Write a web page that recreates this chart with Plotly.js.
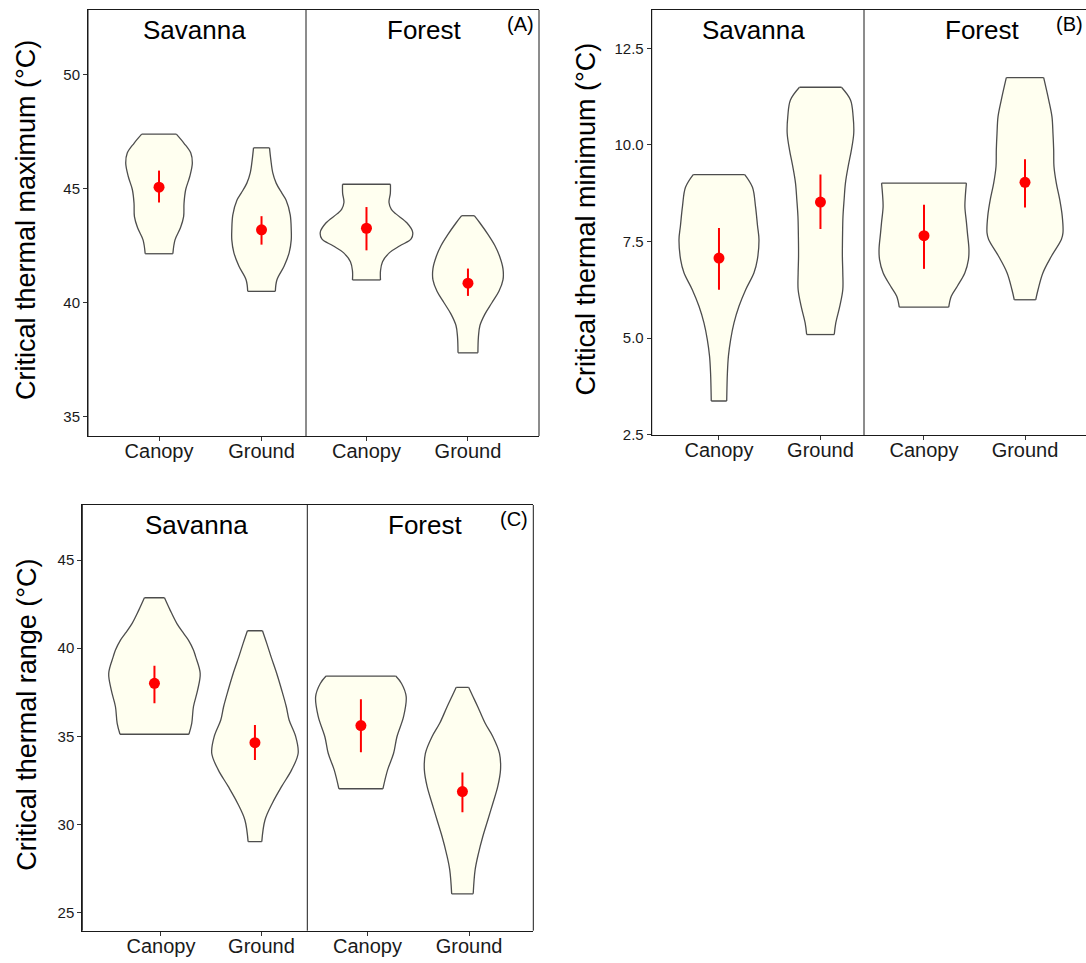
<!DOCTYPE html>
<html><head><meta charset="utf-8">
<script src="https://cdn.plot.ly/plotly-3.0.1.min.js"></script>
<style>html,body{margin:0;padding:0;background:#fff;overflow:hidden}</style>
</head><body><div id="chart" style="width:1086px;height:963px"></div>
<script>
// ---------- DATA ----------
const categories = ['Canopy', 'Ground'];
const habitats = ['Savanna', 'Forest'];

// Means and error-bar limits, order: Savanna-Canopy, Savanna-Ground, Forest-Canopy, Forest-Ground
const ctmaxMean = [45.07, 43.20, 43.27, 40.86];
const ctmaxHi   = [45.80, 43.80, 44.20, 41.50];
const ctmaxLo   = [44.40, 42.55, 42.30, 40.30];

const ctminMean = [7.07, 8.52, 7.65, 9.03];
const ctminHi   = [7.85, 9.23, 8.45, 9.63];
const ctminLo   = [6.25, 7.82, 6.79, 8.38];

const ctrMean = [38.01, 34.64, 35.61, 31.87];
const ctrHi   = [39.01, 35.65, 37.10, 32.95];
const ctrLo   = [36.88, 33.66, 34.10, 30.70];

// Violin density profiles (y level, half-width in category units), top to bottom
const ctmaxSavCanY = [47.4, 47.0, 46.57, 46.13, 45.54, 44.96, 44.37, 43.78, 43.3, 42.76, 42.15];
const ctmaxSavCanW = [.169, .244, .31, .325, .30, .26, .244, .24, .21, .156, .135];
const ctmaxSavGrdY = [46.8, 46.27, 45.7, 45.25, 44.8, 44.5, 43.86, 43.2, 42.76, 42.2, 41.6, 41.0, 40.5];
const ctmaxSavGrdW = [.078, .091, .11, .143, .20, .24, .28, .29, .29, .27, .22, .15, .135];
const ctmaxForCanY = [45.2, 44.8, 44.4, 44.1, 43.9, 43.5, 43.1, 42.8, 42.5, 42.2, 41.8, 41.4, 41.0];
const ctmaxForCanW = [.236, .235, .222, .245, .29, .40, .455, .44, .33, .227, .158, .138, .138];
const ctmaxForGrdY = [43.82, 43.5, 43.0, 42.5, 42.0, 41.5, 41.0, 40.5, 40.0, 39.5, 39.0, 38.5, 37.8];
const ctmaxForGrdW = [.062, .118, .197, .266, .315, .345, .345, .305, .236, .167, .118, .103, .098];

const ctminSavCanY = [9.23, 8.9, 8.4, 7.9, 7.55, 7.03, 6.69, 6.25, 5.82, 5.39, 4.96, 4.53, 4.1, 3.37];
const ctminSavCanW = [.254, .33, .36, .38, .394, .378, .345, .263, .197, .148, .115, .093, .083, .076];
const ctminSavGrdY = [11.49, 11.16, 10.73, 10.3, 9.87, 9.44, 9.01, 8.58, 8.15, 7.72, 7.11, 6.69, 6.25, 5.82, 5.39, 5.09];
const ctminSavGrdW = [.207, .296, .322, .328, .305, .273, .246, .233, .222, .218, .216, .22, .22, .19, .151, .136];
const ctminForCanY = [9.01, 8.7, 8.4, 8.0, 7.72, 7.3, 7.03, 6.69, 6.34, 6.08, 5.8];
const ctminForCanW = [.42, .41, .405, .42, .43, .445, .44, .405, .33, .27, .245];
const ctminForGrdY = [11.74, 11.16, 10.73, 10.3, 9.87, 9.44, 9.01, 8.58, 8.15, 7.72, 7.55, 7.11, 6.69, 6.25, 5.99];
const ctminForGrdW = [.185, .235, .267, .277, .284, .287, .31, .344, .369, .376, .36, .26, .178, .129, .106];

const ctrSavCanY = [42.86, 42.16, 41.41, 40.85, 40.46, 39.9, 39.52, 38.58, 37.63, 36.68, 35.74, 35.12];
const ctrSavCanW = [.10, .156, .222, .289, .338, .388, .41, .455, .43, .388, .371, .343];
const ctrSavGrdY = [40.99, 40.3, 39.52, 38.58, 37.63, 36.68, 35.93, 35.0, 34.04, 33.1, 32.16, 31.21, 30.26, 29.03];
const ctrSavGrdW = [.075, .116, .16, .216, .266, .312, .34, .405, .43, .365, .266, .173, .10, .068];
const ctrForCanY = [38.42, 38.0, 37.25, 36.12, 34.98, 34.04, 33.1, 32.03];
const ctrForCanW = [.343, .40, .446, .42, .355, .322, .263, .217];
const ctrForGrdY = [37.78, 37.3, 36.68, 35.74, 34.98, 34.04, 33.1, 32.16, 31.21, 30.26, 29.31, 28.37, 27.43, 26.07];
const ctrForGrdW = [.061, .10, .151, .224, .30, .365, .375, .348, .30, .25, .20, .158, .125, .106];

// ---------- LAYOUT CONSTANTS ----------
const W = 1086, H = 963;
const fx = v => v / W, fy = v => 1 - v / H;
const FILL = '#FFFFF0', EDGE = '#4d4d4d', RED = '#FF0000', AX = '#1a1a1a';
const FONT = 'Liberation Sans, Arial, sans-serif';

const panels = [
  { label: '(A)', labelX: 536, title: 'Critical thermal maximum (°C)', titleX: 26, top: 10, bottom: 436,
    yRange: [34.15, 52.85], dtick: 5, fmt: 'd', shift: 0,
    facets: [{ l: 88, r: 306, range: [0.307, 2.434], tx: 194 }, { l: 306, r: 539, range: [0.404, 2.70], tx: 424 }],
    mean: ctmaxMean, hi: ctmaxHi, lo: ctmaxLo,
    prof: [[ctmaxSavCanY, ctmaxSavCanW], [ctmaxSavGrdY, ctmaxSavGrdW], [ctmaxForCanY, ctmaxForCanW], [ctmaxForGrdY, ctmaxForGrdW]], rightLine: true },
  { label: '(B)', labelX: 1085, title: 'Critical thermal minimum (°C)', titleX: 585, top: 10, bottom: 435,
    yRange: [2.49, 13.49], dtick: 2.5, fmt: '.1f', shift: 0,
    facets: [{ l: 651.7, r: 864, range: [0.337, 2.429], tx: 753 }, { l: 864, r: 1086, range: [0.406, 2.604], tx: 982 }],
    mean: ctminMean, hi: ctminHi, lo: ctminLo,
    prof: [[ctminSavCanY, ctminSavCanW], [ctminSavGrdY, ctminSavGrdW], [ctminForCanY, ctminForCanW], [ctminForGrdY, ctminForGrdW]], rightLine: false },
  { label: '(C)', labelX: 530, title: 'Critical thermal range (°C)', titleX: 27, top: 505, bottom: 930.7,
    yRange: [23.98, 48.12], dtick: 5, fmt: 'd', shift: -0.065,
    facets: [{ l: 82.3, r: 307.3, range: [0.217, 2.456], tx: 196 }, { l: 307.3, r: 533.3, range: [0.407, 2.633], tx: 425 }],
    mean: ctrMean, hi: ctrHi, lo: ctrLo,
    prof: [[ctrSavCanY, ctrSavCanW], [ctrSavGrdY, ctrSavGrdW], [ctrForCanY, ctrForCanW], [ctrForGrdY, ctrForGrdW]], rightLine: true }
];

const traces = [];
const layout = {
  width: W, height: H, margin: { l: 0, r: 0, t: 0, b: 0 },
  paper_bgcolor: '#fff', plot_bgcolor: 'rgba(0,0,0,0)', showlegend: false,
  font: { family: FONT, color: AX },
  annotations: [], shapes: []
};

panels.forEach((p, pi) => {
  const yName = pi === 0 ? 'y' : 'y' + (pi + 1);
  const yKey = pi === 0 ? 'yaxis' : 'yaxis' + (pi + 1);
  const yDom = [fy(p.bottom), fy(p.top)];
  const xNames = [];
  p.facets.forEach((f, fi) => {
    const n = pi * 2 + fi + 1;
    const xName = n === 1 ? 'x' : 'x' + n;
    const xKey = n === 1 ? 'xaxis' : 'xaxis' + n;
    xNames.push(xName);
    layout[xKey] = {
      domain: [fx(f.l), fx(f.r)], range: f.range, anchor: yName,
      tickmode: 'array', tickvals: [1, 2], ticktext: categories,
      ticks: 'outside', ticklen: 4, tickwidth: 1, tickcolor: '#333', ticklabelstandoff: -7,
      showline: true, linecolor: AX, linewidth: 1, mirror: true,
      showgrid: false, zeroline: false, fixedrange: true,
      tickfont: { size: 20, color: AX, family: FONT }
    };
    layout.annotations.push({
      xref: 'paper', yref: 'paper', x: fx(f.tx), y: fy(p.top + 20), xanchor: 'center', yanchor: 'middle',
      text: habitats[fi], showarrow: false, font: { size: 26, color: '#000', family: FONT }
    });
    layout.shapes.push({ type: 'line', xref: 'paper', yref: 'paper', x0: fx(f.l), x1: fx(f.l), y0: yDom[0], y1: yDom[1], line: { color: AX, width: 1 } });
    if (fi === 1 && p.rightLine) {
      layout.shapes.push({ type: 'line', xref: 'paper', yref: 'paper', x0: fx(f.r), x1: fx(f.r), y0: yDom[0], y1: yDom[1], line: { color: AX, width: 1 } });
    }
    [0, 1].forEach(ci => {
      const idx = fi * 2 + ci;
      const [ys, ws] = p.prof[idx];
      const c = ci + 1 + p.shift;
      const n = ys.length;
      const rx = ys.map((y, i) => c + ws[i]);
      const lx = ys.map((y, i) => c - ws[i]);
      traces.push({
        type: 'scatter', mode: 'lines', xaxis: xName, yaxis: yName, hoverinfo: 'skip',
        x: rx.concat(lx.slice().reverse()), y: ys.concat(ys.slice().reverse()),
        fill: 'toself', fillcolor: FILL, line: { width: 0, color: FILL }
      });
      [rx, lx].forEach(sx => traces.push({
        type: 'scatter', mode: 'lines', xaxis: xName, yaxis: yName, hoverinfo: 'skip',
        x: sx, y: ys, line: { color: EDGE, width: 1.3, shape: 'spline', smoothing: 1 }
      }));
      [0, n - 1].forEach(k => traces.push({
        type: 'scatter', mode: 'lines', xaxis: xName, yaxis: yName, hoverinfo: 'skip',
        x: [lx[k], rx[k]], y: [ys[k], ys[k]], line: { color: EDGE, width: 1.3 }
      }));
      traces.push({
        type: 'scatter', mode: 'markers', x: [c], y: [p.mean[idx]], xaxis: xName, yaxis: yName,
        marker: { color: RED, size: 11 },
        error_y: { type: 'data', symmetric: false, array: [p.hi[idx] - p.mean[idx]], arrayminus: [p.mean[idx] - p.lo[idx]],
                   color: RED, thickness: 2, width: 0 },
        name: habitats[fi] + ' ' + categories[ci]
      });
    });
  });
  layout[yKey] = {
    domain: yDom, range: p.yRange, anchor: xNames[0], dtick: p.dtick, tick0: 0, tickformat: p.fmt,
    ticks: 'outside', ticklen: 4, tickwidth: 1, tickcolor: '#333',
    showline: true, linecolor: AX, linewidth: 1, showgrid: false, zeroline: false, fixedrange: true,
    tickfont: { size: 15, color: AX, family: FONT }
  };
  layout.annotations.push({
    xref: 'paper', yref: 'paper', x: fx(p.titleX), y: fy((p.top + p.bottom) / 2 - 3), xanchor: 'center', yanchor: 'middle',
    text: p.title, textangle: -90, showarrow: false, font: { size: 27, color: '#000', family: FONT }
  });
  layout.annotations.push({
    xref: 'paper', yref: 'paper', x: fx(p.labelX), y: fy(p.top + 14), xanchor: 'right', yanchor: 'middle',
    text: p.label, showarrow: false, font: { size: 20, color: '#000', family: FONT }
  });
});

Plotly.newPlot('chart', traces, layout, { displayModeBar: false, staticPlot: true });
</script>
</body></html>
